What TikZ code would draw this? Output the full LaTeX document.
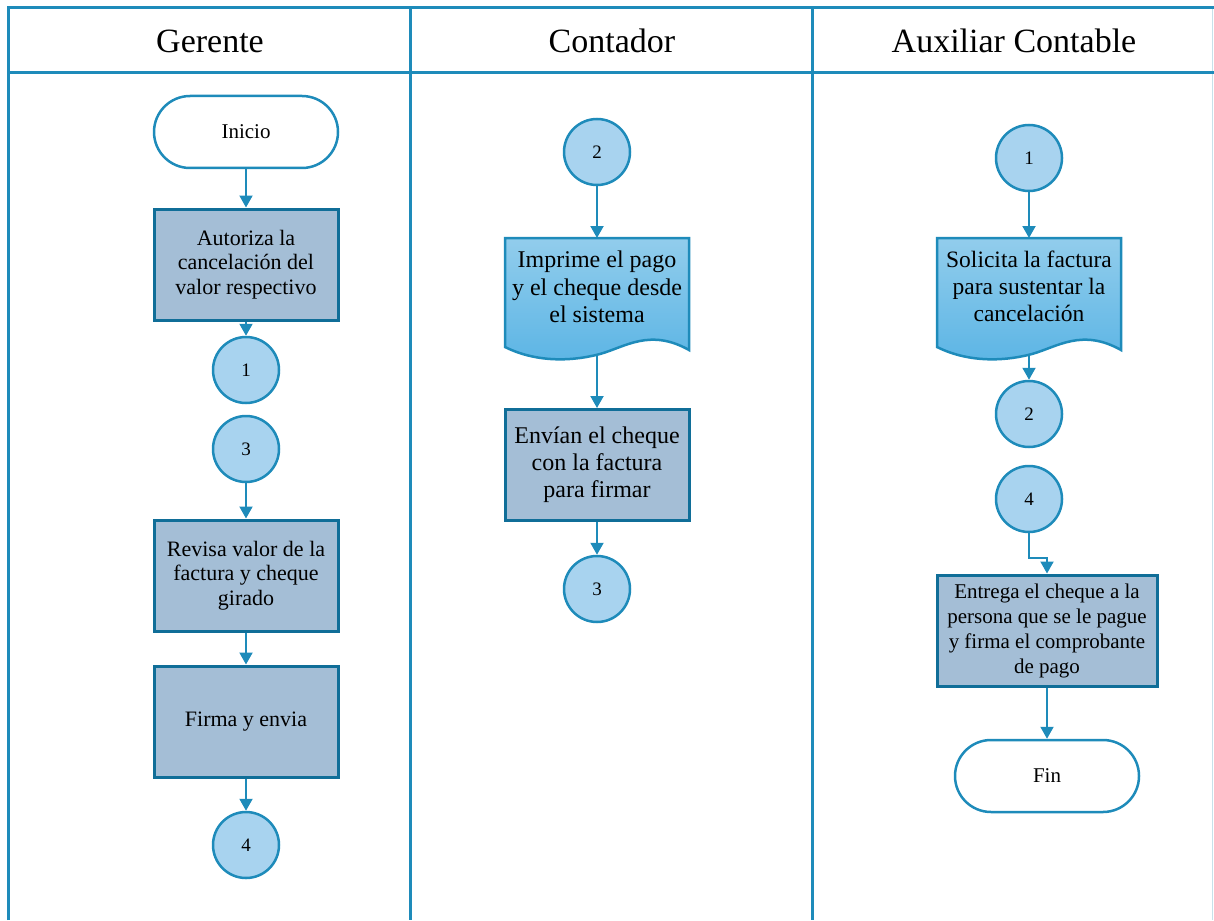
\documentclass[tikz,border=0pt]{standalone}
\usepackage{fontspec}
\setmainfont{Liberation Serif}
\usetikzlibrary{arrows.meta}
\definecolor{lane}{RGB}{30,139,186}
\definecolor{laneedge}{RGB}{200,225,234}
\definecolor{procfill}{RGB}{164,190,214}
\definecolor{procline}{RGB}{16,110,152}
\definecolor{circfill}{RGB}{168,211,239}
\definecolor{doctop}{RGB}{146,205,236}
\definecolor{docbot}{RGB}{92,181,229}
\tikzset{
  lanerule/.style={draw=lane, line width=3pt},
  lanetitle/.style={font=\fontsize{34}{38}\selectfont},
  flow/.style={draw=lane, line width=2pt, -{Triangle[length=12pt,width=13pt]}},
  process/.style={rectangle, draw=procline, fill=procfill, line width=3pt,
    minimum width=184pt, minimum height=111pt, align=center, inner sep=0pt},
  terminal/.style={rectangle, rounded corners=36pt, draw=lane, fill=white, line width=2.5pt,
    minimum width=184pt, minimum height=72pt, inner sep=0pt,
    font=\fontsize{21}{24}\selectfont},
  connector/.style={circle, draw=lane, fill=circfill, line width=2.5pt,
    minimum size=66pt, inner sep=0pt, font=\fontsize{19}{22}\selectfont},
  docframe/.style={rectangle, minimum width=184pt, minimum height=116pt, inner sep=0pt, anchor=north},
  doctext/.style={align=center, inner sep=0pt},
  docpic/.pic={
    \path[draw=lane, line width=2.5pt, top color=doctop, bottom color=docbot]
      (-92,0) -- (92,0) -- (92,112)
      .. controls (53,90) and (28,109) .. (3,116)
      .. controls (-27,124) and (-62,124) .. (-92,109) -- cycle;
  }
}
\begin{document}
\begin{tikzpicture}[x=1pt, y=-1pt]
\useasboundingbox (0,0) rectangle (1214,920);

% swimlane frame
\draw[draw=laneedge, line width=1.5pt] (1212.5,8) -- (1212.5,920);
\draw[lanerule] (8,920) -- (8,8) -- (1214,8);
\draw[lanerule] (8,73) -- (1214,73);
\draw[lanerule] (410,8) -- (410,920);
\draw[lanerule] (812,8) -- (812,920);

\node[lanetitle] (hGerente) at (210,41) {Gerente};
\node[lanetitle] (hContador) at (612,41) {Contador};
\node[lanetitle] (hAuxiliar) at (1014,41) {Auxiliar Contable};

% Gerente lane
\begin{scope}[font=\fontsize{22}{24.5}\selectfont]
\node[terminal] (inicio) at (246,132) {Inicio};
\node[process] (autoriza) at (246,264.5) {Autoriza la\\cancelación del\\valor respectivo};
\node[connector] (g1) at (246,370) {1};
\node[connector] (g3) at (246,449) {3};
\node[process] (revisa) at (246,575.5) {Revisa valor de la\\factura y cheque\\girado};
\node[process] (firma) at (246,721.5) {Firma y envia};
\node[connector] (g4) at (246,845) {4};
\end{scope}

% Contador lane
\node[connector] (c2) at (597,152) {2};
\pic at (597,238) {docpic};
\node[docframe] (imprime) at (597,238) {};
\node[doctext, font=\fontsize{24}{27.5}\selectfont] (imprimeTxt) at (597,287)
  {Imprime el pago\\y el cheque desde\\el sistema};
\node[process, font=\fontsize{24}{27}\selectfont] (envian) at (597,465) {Envían el cheque\\con la factura\\para firmar};
\node[connector] (c3) at (597,589) {3};

% Auxiliar Contable lane
\node[connector] (a1) at (1029,158) {1};
\pic at (1029,238) {docpic};
\node[docframe] (solicita) at (1029,238) {};
\node[doctext, font=\fontsize{23.5}{27}\selectfont] (solicitaTxt) at (1029,286)
  {Solicita la factura\\para sustentar la\\cancelación};
\node[connector] (a2) at (1029,414) {2};
\node[connector] (a4) at (1029,499) {4};
\node[process, minimum width=220pt, font=\fontsize{21}{25}\selectfont] (entrega) at (1047,630.5)
  {Entrega el cheque a la\\persona que se le pague\\y firma el comprobante\\de pago};
\node[terminal] (fin) at (1047,776) {Fin};

% connectors
\draw[flow] (inicio.south) -- (autoriza.north);
\draw[flow] (autoriza.south) -- (g1.north);
\draw[flow] (g3.south) -- (revisa.north);
\draw[flow] (revisa.south) -- (firma.north);
\draw[flow] (firma.south) -- (g4.north);

\draw[flow] (c2.south) -- (imprime.north);
\draw[flow] (imprime.south) -- (envian.north);
\draw[flow] (envian.south) -- (c3.north);

\draw[flow] (a1.south) -- (solicita.north);
\draw[flow] (solicita.south) -- (a2.north);
\draw[flow] (a4.south) -- ++(0,25) -| (entrega.north);
\draw[flow] (entrega.south) -- (fin.north);
\end{tikzpicture}
\end{document}
